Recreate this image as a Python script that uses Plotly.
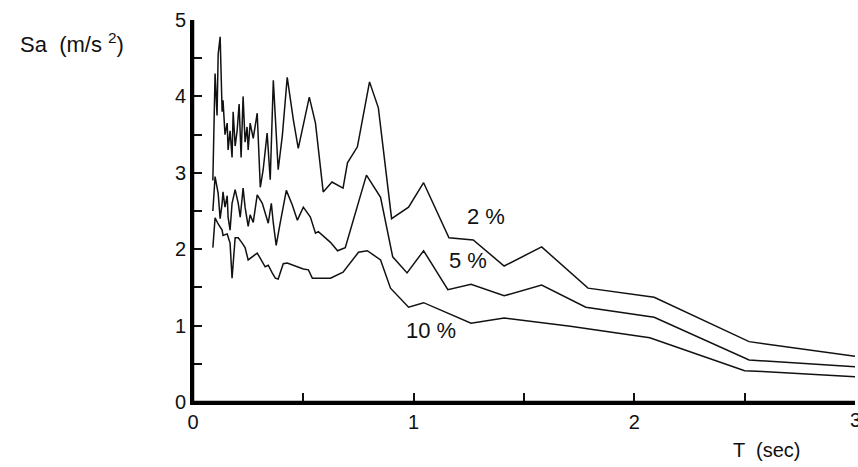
import plotly.graph_objects as go

# Period T (sec) and spectral acceleration Sa (m/s^2) for three damping levels
t_2 = [0.09, 0.10, 0.109, 0.114, 0.123, 0.132, 0.136, 0.145, 0.155, 0.159, 0.168, 0.177,
       0.182, 0.191, 0.20, 0.209, 0.218, 0.227, 0.236, 0.245, 0.25, 0.259, 0.273, 0.282,
       0.291, 0.305, 0.318, 0.336, 0.35, 0.364, 0.377, 0.386, 0.405, 0.427, 0.455, 0.477,
       0.527, 0.555, 0.59, 0.63, 0.68, 0.70, 0.745, 0.80, 0.84, 0.90, 0.977, 1.045, 1.16,
       1.27, 1.41, 1.58, 1.79, 2.09, 2.52, 3.0]
sa_2 = [2.90, 4.30, 3.75, 4.55, 4.78, 3.80, 3.95, 3.50, 3.65, 3.30, 3.55, 3.20,
        3.80, 3.35, 3.55, 3.90, 3.20, 4.00, 3.40, 3.60, 3.30, 3.65, 3.45, 3.60,
        3.78, 2.81, 3.04, 3.52, 2.91, 4.21, 3.43, 3.04, 3.49, 4.25, 3.69, 3.32,
        3.99, 3.65, 2.75, 2.88, 2.80, 3.13, 3.34, 4.19, 3.85, 2.40, 2.55, 2.87, 2.15,
        2.12, 1.78, 2.03, 1.49, 1.37, 0.79, 0.60]

t_5 = [0.09, 0.10, 0.114, 0.123, 0.132, 0.136, 0.145, 0.155, 0.159, 0.168, 0.177, 0.191,
       0.205, 0.214, 0.223, 0.227, 0.236, 0.25, 0.259, 0.273, 0.291, 0.314, 0.341, 0.355,
       0.364, 0.377, 0.395, 0.423, 0.45, 0.473, 0.50, 0.532, 0.555, 0.568, 0.623, 0.655,
       0.69, 0.786, 0.85, 0.905, 0.97, 1.045, 1.155, 1.26, 1.41, 1.58, 1.78, 2.09, 2.52, 3.0]
sa_5 = [2.50, 2.95, 2.73, 2.40, 2.60, 2.75, 2.55, 2.70, 2.42, 2.25, 2.60, 2.78,
        2.60, 2.42, 2.68, 2.80, 2.55, 2.30, 2.45, 2.35, 2.71, 2.60, 2.34, 2.60,
        2.34, 2.05, 2.34, 2.77, 2.58, 2.38, 2.55, 2.42, 2.21, 2.23, 2.09, 1.98,
        2.02, 2.97, 2.68, 1.90, 1.69, 1.98, 1.47, 1.54, 1.39, 1.53, 1.24, 1.11, 0.55, 0.46]

t_10 = [0.09, 0.10, 0.114, 0.132, 0.136, 0.155, 0.168, 0.173, 0.177, 0.191, 0.205, 0.223,
        0.236, 0.25, 0.268, 0.291, 0.327, 0.341, 0.359, 0.373, 0.386, 0.409, 0.427, 0.50,
        0.523, 0.541, 0.623, 0.68, 0.75, 0.79, 0.85, 0.895, 0.977, 1.045, 1.26, 1.41,
        1.71, 2.07, 2.50, 2.58, 3.0]
sa_10 = [2.02, 2.41, 2.33, 2.25, 2.18, 2.20, 2.08, 1.82, 1.62, 2.15, 2.15, 2.08,
         2.02, 1.86, 1.90, 1.95, 1.77, 1.79, 1.69, 1.62, 1.61, 1.81, 1.82, 1.74,
         1.73, 1.62, 1.62, 1.70, 1.96, 1.98, 1.86, 1.49, 1.24, 1.30, 1.03, 1.10,
         0.99, 0.84, 0.41, 0.40, 0.33]

# axis ticks every 0.5, labels on whole numbers
x_tickvals = [0, 0.5, 1, 1.5, 2, 2.5, 3]
x_ticktext = ["0", "", "1", "", "2", "", ""]
y_tickvals = [0, 0.5, 1, 1.5, 2, 2.5, 3, 3.5, 4, 4.5, 5]
y_ticktext = ["0", "", "1", "", "2", "", "3", "", "4", "", "5"]

series = [("2%", t_2, sa_2), ("5%", t_5, sa_5), ("10%", t_10, sa_10)]
labels = [("2 %", 1.328, 2.43), ("5 %", 1.246, 1.85), ("10 %", 1.078, 0.94)]

FONT = "Liberation Sans, Arial, sans-serif"
INK = "#111111"

fig = go.Figure()
for name, t, sa in series:
    fig.add_trace(go.Scatter(x=t, y=sa, mode="lines", name=name,
                             line=dict(color=INK, width=1.5)))

for txt, x, y in labels:
    fig.add_annotation(x=x, y=y, xref="x", yref="y", text=txt, showarrow=False,
                       font=dict(family=FONT, size=22, color=INK))

fig.add_annotation(x=-0.264, y=0.94, xref="paper", yref="paper",
                   text="Sa  (m/s <sup>2</sup>)", showarrow=False,
                   xanchor="left", yanchor="middle",
                   font=dict(family=FONT, size=22, color=INK))
fig.add_annotation(x=0.866, y=-0.126, xref="paper", yref="paper",
                   text="T  (sec)", showarrow=False,
                   xanchor="center", yanchor="middle",
                   font=dict(family=FONT, size=20, color=INK))
# last x tick label, partly cut by the page edge as in the original
fig.add_annotation(x=1.0, y=-0.047, xref="paper", yref="paper",
                   text="3", showarrow=False, xanchor="center", yanchor="middle",
                   font=dict(family=FONT, size=20, color=INK))

axis_common = dict(showgrid=False, zeroline=False, showline=True, linecolor="black",
                   linewidth=3, ticks="inside", ticklen=9, tickwidth=1.5,
                   tickcolor=INK, tickmode="array",
                   tickfont=dict(family=FONT, size=20, color=INK))

fig.update_xaxes(range=[0, 3], tickvals=x_tickvals, ticktext=x_ticktext, **axis_common)
fig.update_yaxes(range=[0, 5], tickvals=y_tickvals, ticktext=y_ticktext, **axis_common)

# frame lines along the left and bottom edges of the plot area
fig.add_shape(type="line", xref="paper", yref="paper", x0=0, y0=0, x1=0, y1=1,
              line=dict(color="black", width=2.5), layer="above")
fig.add_shape(type="line", xref="paper", yref="paper", x0=0, y0=0, x1=1, y1=0,
              line=dict(color="black", width=2.5), layer="above")

fig.update_layout(width=858, height=467, showlegend=False,
                  margin=dict(l=193, r=3, t=20, b=65),
                  paper_bgcolor="white", plot_bgcolor="white")

fig.write_html("out.html")
